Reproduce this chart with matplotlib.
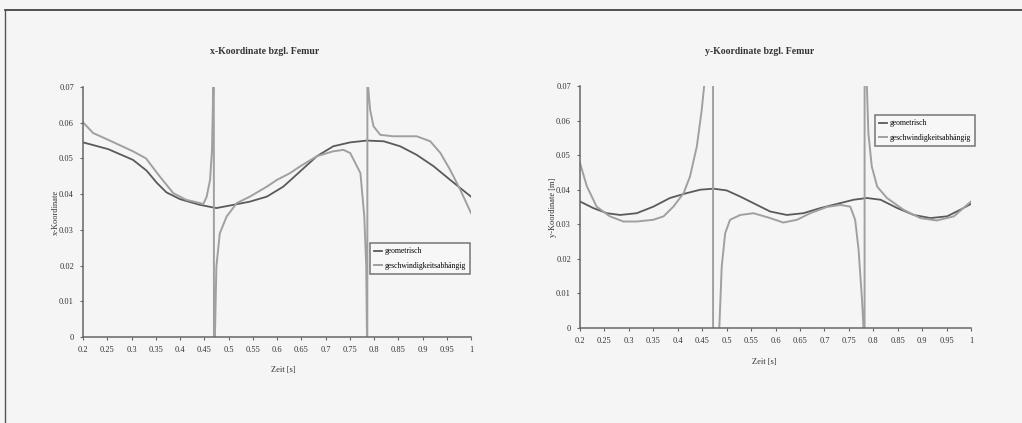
import matplotlib
matplotlib.use("Agg")
import matplotlib.pyplot as plt
from matplotlib.lines import Line2D
import numpy as np

# ---------------- data ----------------
x_ticks = [0.2, 0.25, 0.3, 0.35, 0.4, 0.45, 0.5, 0.55, 0.6, 0.65, 0.7, 0.75,
           0.8, 0.85, 0.9, 0.95, 1.0]
x_tick_labels = ["0.2", "0.25", "0.3", "0.35", "0.4", "0.45", "0.5", "0.55", "0.6",
                 "0.65", "0.7", "0.75", "0.8", "0.85", "0.9", "0.95", "1"]
y_ticks = [0, 0.01, 0.02, 0.03, 0.04, 0.05, 0.06, 0.07]
y_tick_labels = ["0", "0.01", "0.02", "0.03", "0.04", "0.05", "0.06", "0.07"]

series_names = ["geometrisch", "geschwindigkeitsabhängig"]

# left chart: x-Koordinate bzgl. Femur
left_geo_t = [0.2, 0.252, 0.303, 0.331, 0.352, 0.372, 0.40, 0.441, 0.475, 0.51,
              0.544, 0.579, 0.613, 0.648, 0.682, 0.716, 0.751, 0.785, 0.82, 0.854,
              0.888, 0.923, 0.957, 1.0]
left_geo_v = [0.0545, 0.0526, 0.0496, 0.0466, 0.0432, 0.0405, 0.0386, 0.0370,
              0.0361, 0.0370, 0.0379, 0.0393, 0.0421, 0.0464, 0.0506, 0.0534,
              0.0545, 0.0550, 0.0548, 0.0534, 0.0510, 0.0478, 0.0440, 0.0393]

left_vel_t = [0.2, 0.221, 0.252, 0.303, 0.33, 0.358, 0.386, 0.413, 0.441, 0.448,
              0.455, 0.462, 0.466, 0.4685, 0.4695, 0.4705, 0.472, 0.475, 0.482,
              0.496, 0.517, 0.544, 0.579, 0.60, 0.627, 0.648, 0.682, 0.716, 0.737,
              0.751, 0.772, 0.780, 0.784, 0.7855, 0.786, 0.7865, 0.788, 0.792,
              0.799, 0.813, 0.84, 0.888, 0.916, 0.937, 0.957, 0.978, 1.0]
left_vel_v = [0.0601, 0.0571, 0.0552, 0.0520, 0.0500, 0.0450, 0.0403, 0.0384,
              0.0375, 0.0372, 0.0393, 0.0440, 0.0524, 0.0700, 0.1200, -0.1200,
              0.0000, 0.0197, 0.0290, 0.0337, 0.0375, 0.0393, 0.0421, 0.0440,
              0.0459, 0.0478, 0.0506, 0.0520, 0.0524, 0.0515, 0.0459, 0.0337,
              0.0197, 0.0000, -0.1200, 0.1200, 0.0700, 0.0636, 0.0590, 0.0566,
              0.0562, 0.0562, 0.0548, 0.0515, 0.0468, 0.0412, 0.0347]

# right chart: y-Koordinate bzgl. Femur
right_geo_t = [0.2, 0.227, 0.255, 0.282, 0.316, 0.35, 0.384, 0.418, 0.446, 0.473,
               0.5, 0.528, 0.555, 0.589, 0.623, 0.657, 0.692, 0.726, 0.76, 0.787,
               0.815, 0.849, 0.883, 0.917, 0.951, 0.978, 1.0]
right_geo_v = [0.0366, 0.0347, 0.0332, 0.0327, 0.0332, 0.0351, 0.0376, 0.0390,
               0.0400, 0.0403, 0.0398, 0.0380, 0.0361, 0.0337, 0.0327, 0.0332,
               0.0347, 0.0359, 0.0371, 0.0376, 0.0371, 0.0347, 0.0327, 0.0318,
               0.0323, 0.0342, 0.0359]

right_vel_t = [0.2, 0.214, 0.234, 0.261, 0.289, 0.316, 0.35, 0.371, 0.391, 0.412,
               0.425, 0.439, 0.449, 0.454, 0.465, 0.472, 0.4725, 0.48, 0.485, 0.49,
               0.497, 0.507, 0.528, 0.555, 0.589, 0.616, 0.644, 0.671, 0.705, 0.733,
               0.753, 0.763, 0.77, 0.777, 0.78, 0.782, 0.7825, 0.785, 0.787, 0.79,
               0.797, 0.808, 0.828, 0.862, 0.896, 0.93, 0.965, 1.0]
right_vel_v = [0.0477, 0.0410, 0.0351, 0.0323, 0.0308, 0.0308, 0.0313, 0.0323,
               0.0351, 0.0390, 0.0438, 0.0525, 0.0630, 0.0700, 0.1500, 0.3000,
               -0.3000, -0.0500, 0.0000, 0.0178, 0.0274, 0.0313, 0.0327, 0.0332,
               0.0318, 0.0305, 0.0313, 0.0332, 0.0350, 0.0356, 0.0351, 0.0313,
               0.0226, 0.0082, 0.0000, -0.3000, 0.3000, 0.1000, 0.0700, 0.0563,
               0.0467, 0.0409, 0.0376, 0.0342, 0.0318, 0.0311, 0.0323, 0.0366]

# ---------------- style ----------------
plt.rcParams['font.family'] = ['Liberation Serif', 'DejaVu Serif']
W, H = 1022, 423
fig = plt.figure(figsize=(W / 100, H / 100), dpi=100, facecolor='#f5f5f5')

geo_color = '#5a5a5a'
vel_color = '#a0a0a0'
axis_color = '#666666'


def fx(px):
    return px / W


def fy(py):
    return 1 - py / H


def make_axes(rect, title, title_xy, xlabel, xlabel_xy, ylabel, ylabel_xy,
              geo, vel, legend_xy):
    ax = fig.add_axes(rect)
    ax.set_facecolor('none')
    l1, = ax.plot(geo[0], geo[1], color=geo_color, lw=1.3, label=series_names[0])
    l2, = ax.plot(vel[0], vel[1], color=vel_color, lw=1.4, label=series_names[1])
    ax.set_xlim(0.2, 1.0)
    ax.set_ylim(0, 0.07)
    ax.set_xticks(x_ticks)
    ax.set_xticklabels(x_tick_labels)
    ax.set_yticks(y_ticks)
    ax.set_yticklabels(y_tick_labels)
    for s in ['top', 'right']:
        ax.spines[s].set_visible(False)
    for s in ['left', 'bottom']:
        ax.spines[s].set_color(axis_color)
        ax.spines[s].set_linewidth(1.1)
    ax.tick_params(axis='both', colors=axis_color, labelcolor='#333333',
                   labelsize=6, length=2.5, width=0.8, pad=4)
    fig.text(fx(title_xy[0]), fy(title_xy[1]), title, ha='center', va='center',
             fontsize=7, fontweight='bold', color='#333333')
    fig.text(fx(xlabel_xy[0]), fy(xlabel_xy[1]), xlabel, ha='center',
             va='center', fontsize=6, color='#333333')
    fig.text(fx(ylabel_xy[0]), fy(ylabel_xy[1]), ylabel, ha='center',
             va='center', fontsize=6, color='#333333', rotation=90)
    leg = fig.legend(handles=[l1, l2], loc='upper left',
                     bbox_to_anchor=(fx(legend_xy[0]), fy(legend_xy[1])),
                     fontsize=5.5, frameon=True, fancybox=False,
                     handlelength=1.0, handletextpad=0.3, borderpad=0.55,
                     labelspacing=0.9, borderaxespad=0)
    leg.get_frame().set_edgecolor('#555555')
    leg.get_frame().set_linewidth(1.1)
    leg.get_frame().set_facecolor('#f8f8f8')
    return ax


make_axes([fx(83), fy(337), fx(471) - fx(83), fy(87) - fy(337)],
          "x-Koordinate bzgl. Femur", (265, 52),
          "Zeit [s]", (283, 370),
          "x-Koordinate", (56, 212),
          (left_geo_t, left_geo_v), (left_vel_t, left_vel_v), (370, 243))

make_axes([fx(580), fy(328), fx(971) - fx(580), fy(86) - fy(328)],
          "y-Koordinate bzgl. Femur", (760, 52),
          "Zeit [s]", (764, 362),
          "y-Koordinate [m]", (553, 207),
          (right_geo_t, right_geo_v), (right_vel_t, right_vel_v), (875, 115))

# page frame of the scanned document
fig.add_artist(Line2D([fx(5), 1.0], [fy(10), fy(10)], color='#333333', lw=1.2))
fig.add_artist(Line2D([fx(5), fx(5)], [fy(10), 0.0], color='#555555', lw=1.0))

fig.savefig("out.png", dpi=100, facecolor=fig.get_facecolor())
